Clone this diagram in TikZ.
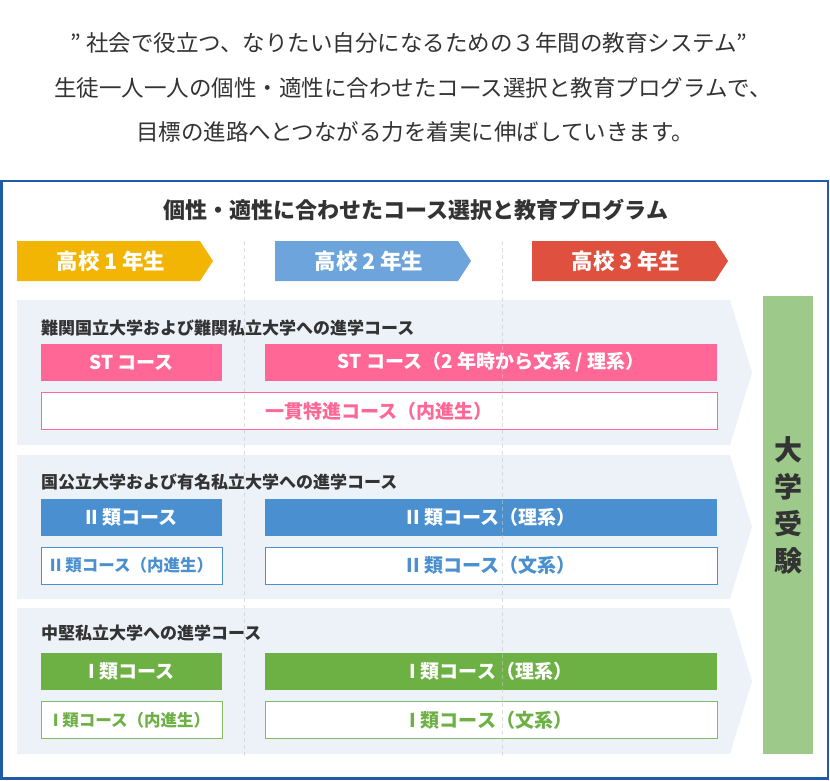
\documentclass[tikz,border=0pt]{standalone}
\usepackage{fontspec}
\setmainfont{Noto Sans CJK JP}
\usetikzlibrary{calc}

\definecolor{frameblue}{HTML}{1F5CA8}
\definecolor{headgray}{HTML}{333333}
\definecolor{yearone}{HTML}{F3B503}
\definecolor{yeartwo}{HTML}{6CA4DB}
\definecolor{yearthree}{HTML}{E0503F}
\definecolor{rowbg}{HTML}{EDF2F9}
\definecolor{stpink}{HTML}{FF6796}
\definecolor{typetwo}{HTML}{4A8FD0}
\definecolor{typeone}{HTML}{6DB044}
\definecolor{examgreen}{HTML}{9DCA8A}

\begin{document}
\begin{tikzpicture}[x=1pt,y=-1pt,
  coursebox/.style={rectangle, inner sep=0pt, outer sep=0pt, minimum height=37pt,
    font=\bfseries\fontsize{19}{19}\selectfont},
  filled/.style={coursebox, fill=#1, text=white},
  outlined/.style={coursebox, draw=#1, fill=white, text=#1, line width=1pt},
  smallbox/.style={font=\bfseries\fontsize{16.5}{16.5}\selectfont},
  rowlabel/.style={anchor=west, inner sep=0pt, text=headgray,
    font=\bfseries\fontsize{17}{17}\selectfont},
  tabtext/.style={text=white, font=\bfseries\fontsize{21.5}{21.5}\selectfont},
  guide/.style={black!22, dashed, dash pattern=on 4pt off 3pt, line width=0.8pt}]
\useasboundingbox (0,0) rectangle (830,780);
\fill[white] (0,0) rectangle (830,780);

% lead text
\node[text=headgray, font=\fontsize{22.5}{22.5}\selectfont] (lead1) at (409,43)
  {”\ 社会で役立つ、なりたい自分になるための３年間の教育システム”};
\node[text=headgray, font=\fontsize{22.5}{22.5}\selectfont] (lead2) at (413,88)
  {生徒一人一人の個性・適性に合わせたコース選択と教育プログラムで、};
\node[text=headgray, font=\fontsize{22.5}{22.5}\selectfont] (lead3) at (415,132)
  {目標の進路へとつながる力を着実に伸ばしていきます。};

\draw[frameblue, line width=2.5pt] (1.5,181) rectangle (828,778.5);

\node[text=headgray, font=\bfseries\fontsize{22}{22}\selectfont] (title) at (416,210)
  {個性・適性に合わせたコース選択と教育プログラム};

% year tabs
\foreach \x/\c/\n in {17/yearone/1, 275/yeartwo/2, 532/yearthree/3}
  {
  \fill[\c] (\x,241) -- ++(183,0) -- ++(13,20) -- ++(-13,20) -- ++(-183,0) -- cycle;
  \node[tabtext] (year\n) at (\x+94,261) {高校 \n\ 年生};
  }

% course rows
\foreach \t/\b in {300/445, 455/599, 608/754}
  \fill[rowbg] (17,\t) -- (730,\t) -- (752,{(\t+\b)/2}) -- (730,\b) -- (17,\b) -- cycle;

\node[rowlabel] (rowst) at (41,328) {難関国立大学および難関私立大学への進学コース};
\node[filled=stpink, minimum width=181pt] (stone) at (131.5,362.5) {ST コース};
\node[filled=stpink, minimum width=452pt] (sttwo) at (491,362.5) {ST コース（2 年時から文系 / 理系）};
\node[outlined=stpink, minimum width=676pt] (stin) at (379,411) {一貫特進コース（内進生）};

\node[rowlabel] (rowtwo) at (41,482) {国公立大学および有名私立大学への進学コース};
\node[filled=typetwo, minimum width=181pt] (twoa) at (131.5,517) {II 類コース};
\node[filled=typetwo, minimum width=452pt] (twob) at (491,517) {II 類コース（理系）};
\node[outlined=typetwo, smallbox, minimum width=181pt] (twoin) at (131.5,565.5) {II 類コース（内進生）};
\node[outlined=typetwo, minimum width=452pt] (twoc) at (491,565.5) {II 類コース（文系）};

\node[rowlabel] (rowone) at (41,633) {中堅私立大学への進学コース};
\node[filled=typeone, minimum width=181pt] (onea) at (131.5,671) {I 類コース};
\node[filled=typeone, minimum width=452pt] (oneb) at (491,671) {I 類コース（理系）};
\node[outlined=typeone!85!white, smallbox, minimum width=181pt, text=typeone] (onein) at (131.5,720) {I 類コース（内進生）};
\node[outlined=typeone!85!white, minimum width=452pt, text=typeone] (onec) at (491,720) {I 類コース（文系）};

% dashed year borders
\foreach \x in {244, 502}
  \draw[guide, opacity=0.6] (\x,241) -- (\x,757);

% exam column
\node[fill=examgreen, minimum width=50pt, minimum height=458pt, inner sep=0pt] (exam) at (788,525) {};
\node[align=center, text=headgray, font=\bfseries\fontsize{28}{37}\selectfont] (examtext) at (788,505)
  {大\\学\\受\\験};

\end{tikzpicture}
\end{document}
